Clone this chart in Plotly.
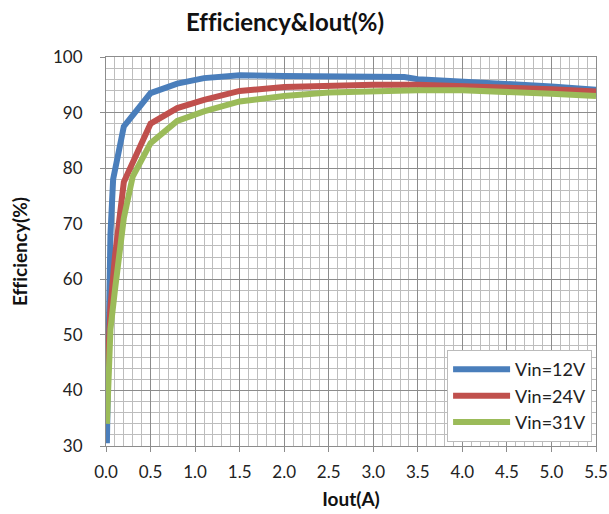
import plotly.graph_objects as go

# Data
x_12v = [0.01, 0.05, 0.08, 0.2, 0.5, 0.8, 1.1, 1.5, 2.0, 2.5, 3.0, 3.35, 3.5, 4.0, 4.5, 5.0, 5.5]
y_12v = [30.5, 68.0, 78.0, 87.5, 93.5, 95.2, 96.2, 96.7, 96.6, 96.5, 96.4, 96.4, 96.0, 95.6, 95.2, 94.7, 94.1]

x_24v = [0.01, 0.05, 0.1, 0.2, 0.5, 0.8, 1.1, 1.5, 2.0, 2.5, 3.0, 3.5, 4.0, 4.5, 5.0, 5.5]
y_24v = [40.5, 55.0, 64.0, 77.5, 88.0, 90.8, 92.3, 93.9, 94.6, 94.9, 95.0, 95.0, 94.8, 94.5, 94.2, 93.8]

x_31v = [0.01, 0.05, 0.1, 0.2, 0.3, 0.5, 0.8, 1.1, 1.5, 2.0, 2.5, 3.0, 3.5, 4.0, 4.5, 5.0, 5.5]
y_31v = [34.0, 51.0, 58.0, 71.0, 78.5, 84.5, 88.5, 90.2, 92.0, 93.0, 93.6, 93.9, 94.0, 94.0, 93.8, 93.4, 93.0]

series_names = ["Vin=12V", "Vin=24V", "Vin=31V"]
series_colors = ["#4A7EBB", "#C0504D", "#9BBB59"]

x_ticks = [0.0, 0.5, 1.0, 1.5, 2.0, 2.5, 3.0, 3.5, 4.0, 4.5, 5.0, 5.5]
x_tick_labels = ["0.0", "0.5", "1.0", "1.5", "2.0", "2.5", "3.0", "3.5", "4.0", "4.5", "5.0", "5.5"]
y_ticks = [30, 40, 50, 60, 70, 80, 90, 100]

FONT = "Lato"
NOLIGA = "font-variant-ligatures:none"

fig = go.Figure()
for xs, ys, name, color in zip([x_12v, x_24v, x_31v], [y_12v, y_24v, y_31v],
                               series_names, series_colors):
    fig.add_trace(go.Scatter(x=xs, y=ys, mode="lines", name=name,
                             line=dict(color=color, width=6)))

fig.update_layout(
    width=609, height=514,
    margin=dict(l=106, r=13, t=57, b=68),
    paper_bgcolor="white", plot_bgcolor="white",
    font=dict(family=FONT, color="#222222"),
    title=dict(text=f"<span style='{NOLIGA}'><b>Efficiency&Iout(%)</b></span>",
               x=0.468, xanchor="center", y=0.957, yanchor="middle",
               font=dict(size=24, family=FONT, color="#111111")),
    showlegend=True,
    legend=dict(x=0.992, y=0.01, xanchor="right", yanchor="bottom",
                bgcolor="white", bordercolor="#BBBBBB", borderwidth=1,
                font=dict(size=18, family=FONT, color="#222222"),
                itemwidth=57, tracegroupgap=0),
)

fig.update_xaxes(
    range=[0, 5.5], tickvals=x_ticks, ticktext=x_tick_labels,
    automargin=False,
    showgrid=True, gridcolor="#8C8C8C", gridwidth=1,
    minor=dict(dtick=0.1, showgrid=True, gridcolor="#BDBDBD", gridwidth=1),
    showline=True, linecolor="#8C8C8C", linewidth=1, mirror=True,
    ticks="outside", ticklen=5, tickcolor="#8C8C8C",
    tickfont=dict(size=17, family=FONT, color="#222222"),
    ticklabelstandoff=6,
    title=dict(text="<b>Iout(A)</b>", font=dict(size=19, family=FONT, color="#111111"), standoff=11),
    zeroline=False,
)
fig.update_yaxes(
    range=[30, 100], tickvals=y_ticks,
    automargin=False,
    showgrid=True, gridcolor="#8C8C8C", gridwidth=1,
    minor=dict(dtick=2, showgrid=True, gridcolor="#BDBDBD", gridwidth=1),
    showline=True, linecolor="#8C8C8C", linewidth=1, mirror=True,
    ticks="outside", ticklen=5, tickcolor="#8C8C8C",
    tickfont=dict(size=17, family=FONT, color="#222222"),
    ticklabelstandoff=14,
    title=dict(text=f"<span style='{NOLIGA}'><b>Efficiency(%)</b></span>",
               font=dict(size=19, family=FONT, color="#111111"), standoff=20),
    zeroline=False,
)

fig.write_html(
    "out.html",
    config={"displayModeBar": False},
    post_script="document.body.style.margin='0';document.documentElement.style.overflow='hidden';",
)
